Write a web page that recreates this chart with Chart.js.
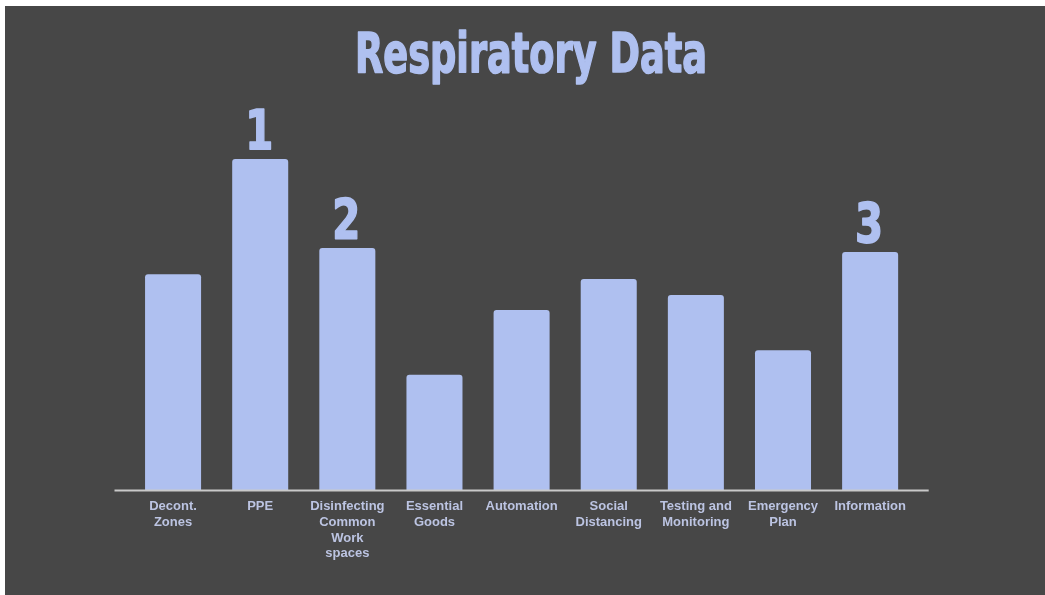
<!DOCTYPE html>
<html>
<head>
<meta charset="utf-8">
<title>Respiratory Data</title>
<script src="https://cdn.jsdelivr.net/npm/chart.js@4/dist/chart.umd.min.js"></script>
<style>
  html, body { margin: 0; padding: 0; background: #ffffff; }
  #panel {
    position: absolute; left: 5px; top: 6px;
    width: 1040px; height: 589px;
    background: #474747;
  }
  #chart { display: block; }
</style>
</head>
<body>
<div id="panel"><canvas id="chart" width="1040" height="589"></canvas></div>
<script>
// Categories, one bar each (multi-line labels as arrays)
const categories = [
  ['Decont.', 'Zones'],
  'PPE',
  ['Disinfecting', 'Common', 'Work', 'spaces'],
  ['Essential', 'Goods'],
  'Automation',
  ['Social', 'Distancing'],
  ['Testing and', 'Monitoring'],
  ['Emergency', 'Plan'],
  'Information'
];

// Score per category
const scores = [56.8, 87.1, 63.7, 30.3, 47.4, 55.5, 51.3, 36.8, 62.6];

// Rank markers printed above the top three bars
const ranks = ['', '1', '2', '', '', '', '', '', '3'];

const TITLE = 'Respiratory Data';
const ACCENT = '#afc0f0';
const CONDENSED = "'Liberation Sans Narrow', 'DejaVu Sans Condensed', 'Liberation Sans', sans-serif";

// Draw heavy condensed text, squeezed horizontally (to a width or by a factor)
function squeezedText(ctx, text, cx, baseline, size, targetW, factor) {
  ctx.save();
  ctx.font = 'bold ' + size + 'px ' + CONDENSED;
  const w = ctx.measureText(text).width;
  const sx = targetW ? targetW / w : factor;
  ctx.translate(cx, baseline);
  ctx.scale(sx, 1);
  ctx.textAlign = 'center';
  ctx.textBaseline = 'alphabetic';
  ctx.fillStyle = ACCENT;
  ctx.strokeStyle = ACCENT;
  ctx.lineWidth = 1.6;
  ctx.lineJoin = 'round';
  ctx.fillText(text, 0, 0);
  ctx.strokeText(text, 0, 0);
  ctx.restore();
}

const decorations = {
  id: 'decorations',
  afterDatasetsDraw(chart) {
    const ctx = chart.ctx;
    const area = chart.chartArea;

    // Baseline under the bars
    ctx.save();
    ctx.strokeStyle = '#c9c9c9';
    ctx.lineWidth = 2;
    ctx.beginPath();
    ctx.moveTo(area.left - 15, area.bottom + 0.5);
    ctx.lineTo(area.right + 15, area.bottom + 0.5);
    ctx.stroke();
    ctx.restore();

    // Title
    squeezedText(ctx, TITLE, 526, 66, 56, 352, 1);

    // Rank numbers above bars
    const meta = chart.getDatasetMeta(0);
    meta.data.forEach((bar, i) => {
      if (!ranks[i]) return;
      squeezedText(ctx, ranks[i], bar.x - 1, bar.y - 10, 56, null, 0.8);
    });
  }
};

new Chart(document.getElementById('chart'), {
  type: 'bar',
  data: {
    labels: categories,
    datasets: [{
      data: scores,
      backgroundColor: ACCENT,
      borderRadius: 3,
      borderSkipped: 'bottom',
      barPercentage: 0.643,
      categoryPercentage: 1.0
    }]
  },
  options: {
    responsive: false,
    animation: false,
    devicePixelRatio: 1,
    layout: { padding: { left: 124.5, right: 131.3, top: 104, bottom: 5 } },
    plugins: {
      legend: { display: false },
      tooltip: { enabled: false },
      title: { display: false }
    },
    scales: {
      x: {
        grid: { display: false, drawTicks: false },
        border: { display: false },
        ticks: {
          color: '#bcc4e2',
          padding: 9,
          maxRotation: 0,
          autoSkip: false,
          font: { family: "'Liberation Sans', Arial, sans-serif", size: 13, weight: 'bold', lineHeight: 1.2 }
        },
        afterFit(scale) { scale.height = 100; }
      },
      y: {
        display: false,
        min: 0,
        max: 100
      }
    }
  },
  plugins: [decorations]
});
</script>
</body>
</html>
